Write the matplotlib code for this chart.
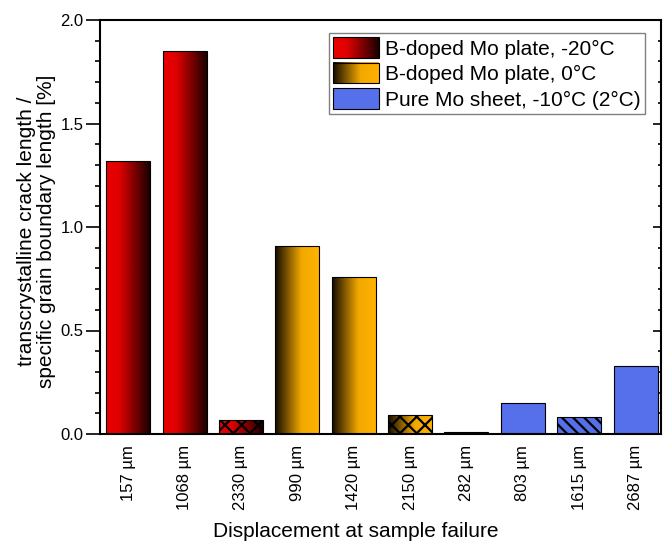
import numpy as np
import matplotlib
matplotlib.use("Agg")
import matplotlib.pyplot as plt
from matplotlib.colors import LinearSegmentedColormap
from matplotlib.legend_handler import HandlerBase
from matplotlib.image import BboxImage
from matplotlib.transforms import Bbox, TransformedBbox
from matplotlib.patches import Rectangle
from matplotlib.ticker import MultipleLocator

plt.rcParams['font.family'] = ['Liberation Sans', 'DejaVu Sans']
plt.rcParams['hatch.linewidth'] = 1.6

# ---- data ----
categories = ['157 µm', '1068 µm', '2330 µm', '990 µm', '1420 µm',
              '2150 µm', '282 µm', '803 µm', '1615 µm', '2687 µm']
values = [1.32, 1.85, 0.07, 0.91, 0.76, 0.09, 0.01, 0.15, 0.08, 0.33]
groups = [0, 0, 0, 1, 1, 1, 1, 2, 2, 2]
hatches = ['', '', 'xx', '', '', 'xx', '', '', '\\\\\\', '']
series_labels = ['B-doped Mo plate, -20°C', 'B-doped Mo plate, 0°C',
                 'Pure Mo sheet, -10°C (2°C)']

cmap_red = LinearSegmentedColormap.from_list(
    'red', [(0, '#ea0000'), (0.3, '#e00000'), (1.0, '#1a0000')])
cmap_orange = LinearSegmentedColormap.from_list(
    'orange', [(0, '#140a00'), (0.6, '#f2a800'), (1.0, '#ffb200')])
cmap_blue = LinearSegmentedColormap.from_list('blue', ['#5570ea', '#5570ea'])
cmaps = [cmap_red, cmap_orange, cmap_blue]

fig = plt.figure(figsize=(6.63, 5.45), dpi=100)
ax = fig.add_axes([100/663, 111/545, 561/663, 414/545])

x = np.arange(len(categories))
width = 0.78
grad = np.linspace(0, 1, 256).reshape(1, -1)

bars = ax.bar(x, values, width=width, facecolor='none', edgecolor='black',
              linewidth=0.8, zorder=3)
for b, g, h in zip(bars, groups, hatches):
    x0, y0 = b.get_x(), b.get_y()
    w, hgt = b.get_width(), b.get_height()
    im = ax.imshow(grad, cmap=cmaps[g], aspect='auto',
                   extent=(x0, x0 + w, y0, y0 + hgt), zorder=2,
                   interpolation='bicubic')
    im.set_clip_path(b)
    if h:
        ax.bar(b.get_x() + w/2, hgt, width=w, facecolor='none',
               edgecolor='black', linewidth=0, hatch=h, zorder=2.5)

ax.set_xlim(-0.5, 9.45)
ax.set_ylim(0, 2.0)
ax.set_xticks(x)
ax.set_xticklabels(categories, rotation=90, fontsize=12)
ax.tick_params(axis='x', length=0, pad=8)
ax.yaxis.set_major_locator(MultipleLocator(0.5))
ax.yaxis.set_minor_locator(MultipleLocator(0.1))
ax.tick_params(axis='y', which='major', direction='out', length=10, width=1.2,
               labelsize=12, pad=2)
ax.tick_params(axis='y', which='minor', direction='out', length=3.5, width=1.2)
for s in ax.spines.values():
    s.set_linewidth(1.5)

ax2 = ax.twinx()
ax2.set_ylim(0, 2.0)
ax2.yaxis.set_major_locator(MultipleLocator(0.5))
ax2.yaxis.set_minor_locator(MultipleLocator(0.1))
ax2.tick_params(axis='y', which='major', direction='in', length=6, width=1.2,
                labelright=False)
ax2.tick_params(axis='y', which='minor', direction='in', length=2.5, width=1.2)
for s in ax2.spines.values():
    s.set_visible(False)

ax.set_xlabel('Displacement at sample failure', fontsize=15)
ax.xaxis.set_label_coords((356 - 100) / 561, -(522 - 434) / 414)
ax.set_ylabel('transcrystalline crack length /\nspecific grain boundary length [%]',
              fontsize=15, linespacing=1.05)
ax.yaxis.set_label_coords(-(100 - 56) / 561, 0.49)


class GradHandler(HandlerBase):
    def create_artists(self, legend, orig_handle, xdescent, ydescent,
                       width, height, fontsize, trans):
        bb = Bbox.from_bounds(-xdescent, -ydescent, width, height)
        tbb = TransformedBbox(bb, trans)
        img = BboxImage(tbb, cmap=orig_handle.cmap_, interpolation='bicubic')
        img.set_data(grad)
        rect = Rectangle((-xdescent, -ydescent), width, height, fill=False,
                         edgecolor='black', linewidth=0.8, transform=trans)
        return [img, rect]


handles = []
for c in cmaps:
    p = Rectangle((0, 0), 1, 1)
    p.cmap_ = c
    handles.append(p)

leg = ax.legend(handles, series_labels, handler_map={Rectangle: GradHandler()},
                loc='upper right', bbox_to_anchor=(0.9715, 0.9686),
                borderaxespad=0, fontsize=15, handlelength=2.2,
                handleheight=1.15, labelspacing=0.2, borderpad=0.2,
                handletextpad=0.3, fancybox=False, framealpha=1,
                edgecolor='#808080')
leg.get_frame().set_linewidth(1.0)
leg.set_zorder(10)

fig.savefig('out.png', dpi=100)
